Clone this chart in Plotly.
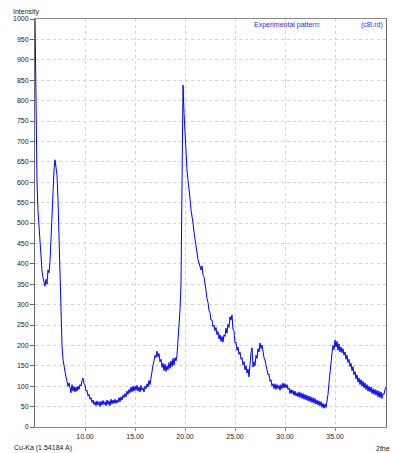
import plotly.graph_objects as go

two_theta_start = 5.0
two_theta_step = 0.1
intensity = [
    # 5.0 - 5.9
    1010, 690, 600, 530, 485, 440, 410, 382, 366, 352,
    # 6.0 - 6.9
    345, 362, 350, 385, 378, 405, 458, 512, 593, 630,
    # 7.0 - 7.9
    655, 640, 617, 556, 458, 385, 250, 200, 165, 147,
    # 8.0 - 8.9
    135, 122, 112, 100, 108, 92, 84, 104, 88, 99,
    # 9.0 - 9.9
    86, 98, 88, 100, 92, 104, 100, 114, 120, 106,
    # 10.0 - 10.9
    104, 88, 90, 76, 80, 68, 72, 60, 66, 55,
    # 11.0 - 11.9
    62, 52, 64, 54, 62, 50, 63, 54, 65, 55,
    # 12.0 - 12.9
    62, 52, 66, 55, 64, 52, 68, 56, 66, 58,
    # 13.0 - 13.9
    68, 58, 66, 60, 72, 62, 74, 66, 78, 72,
    # 14.0 - 14.9
    82, 74, 88, 80, 92, 84, 98, 86, 100, 88,
    # 15.0 - 15.9
    100, 90, 102, 88, 98, 86, 102, 90, 96, 86,
    # 16.0 - 16.9
    100, 94, 106, 98, 114, 104, 124, 132, 152, 162,
    # 17.0 - 17.9
    176, 170, 186, 172, 180, 160, 166, 146, 156, 138,
    # 18.0 - 18.9
    154, 136, 150, 140, 158, 144, 162, 148, 168, 152,
    # 19.0 - 19.9
    170, 162, 176, 213, 240, 287, 350, 650, 838, 770,
    # 20.0 - 20.9
    711, 665, 630, 605, 588, 560, 532, 520, 500, 478,
    # 21.0 - 21.9
    458, 440, 430, 410, 402, 390, 385, 395, 372, 368,
    # 22.0 - 22.9
    342, 335, 315, 305, 285, 280, 262, 262, 246, 250,
    # 23.0 - 23.9
    236, 244, 226, 234, 216, 226, 210, 222, 208, 226,
    # 24.0 - 24.9
    222, 242, 230, 252, 244, 270, 262, 275, 238, 236,
    # 25.0 - 25.9
    206, 208, 188, 196, 178, 184, 166, 170, 152, 160,
    # 26.0 - 26.9
    140, 150, 132, 142, 123, 158, 182, 194, 147, 160,
    # 27.0 - 27.9
    150, 176, 168, 192, 184, 206, 192, 201, 178, 170,
    # 28.0 - 28.9
    164, 146, 140, 128, 130, 112, 116, 100, 106, 94,
    # 29.0 - 29.9
    106, 92, 104, 94, 102, 90, 104, 94, 108, 96,
    # 30.0 - 30.9
    106, 96, 104, 92, 96, 82, 92, 82, 90, 78,
    # 31.0 - 31.9
    88, 76, 84, 74, 86, 72, 84, 70, 82, 68,
    # 32.0 - 32.9
    80, 66, 78, 64, 76, 62, 74, 60, 72, 58,
    # 33.0 - 33.9
    70, 56, 66, 54, 64, 52, 62, 48, 58, 46,
    # 34.0 - 34.9
    56, 48, 61, 80, 108, 140, 165, 181, 200, 190,
    # 35.0 - 35.9
    213, 196, 210, 188, 204, 184, 196, 182, 192, 176,
    # 36.0 - 36.9
    184, 166, 176, 158, 166, 148, 156, 138, 148, 128,
    # 37.0 - 37.9
    136, 118, 128, 110, 120, 104, 116, 100, 112, 96,
    # 38.0 - 38.9
    108, 92, 104, 88, 100, 86, 98, 82, 94, 80,
    # 39.0 - 39.9
    92, 78, 90, 74, 88, 72, 86, 70, 82, 80,
    # 40.0 - 40.1
    92, 98,
]
two_theta = [round(two_theta_start + i * two_theta_step, 2) for i in range(len(intensity))]

x_tick_vals = [10, 15, 20, 25, 30, 35]
x_tick_text = ["10.00", "15.00", "20.00", "25.00", "30.00", "35.00"]
y_tick_vals = list(range(0, 1001, 50))

FONT = "Liberation Sans"
PW, PH = 351, 408  # plot area size in px
TXT = "#222222"

fig = go.Figure()
fig.add_trace(go.Scatter(
    x=two_theta, y=intensity, mode="lines",
    line=dict(color="#0000ff", width=1),
    hoverinfo="skip", showlegend=False,
))

fig.update_layout(
    width=393, height=453,
    margin=dict(l=35, r=7, t=19, b=26, autoexpand=False),
    paper_bgcolor="white", plot_bgcolor="white",
    font=dict(family=FONT, size=7, color=TXT),
    xaxis=dict(
        range=[5, 40.1], tickvals=x_tick_vals, ticktext=x_tick_text,
        showgrid=True, gridcolor="#d4d4d4", griddash="dot", gridwidth=1,
        showline=True, linecolor="#8a8a8a", linewidth=1, mirror=True,
        ticks="outside", ticklen=3, tickcolor="#8a8a8a", automargin=False,
        zeroline=False, tickfont=dict(family=FONT, size=7, color=TXT),
    ),
    yaxis=dict(
        range=[0, 1000], tickvals=y_tick_vals,
        showgrid=True, gridcolor="#d4d4d4", griddash="dot", gridwidth=1,
        showline=True, linecolor="#6a6a6a", linewidth=1, mirror=True,
        ticks="outside", ticklen=4, tickcolor="#6a6a6a", automargin=False,
        zeroline=False, tickfont=dict(family=FONT, size=7, color=TXT),
    ),
    annotations=[
        dict(text="Intensity", xref="paper", yref="paper", x=(11 - 35) / PW, y=1 + 7/PH,
             xanchor="left", yanchor="middle", showarrow=False,
             font=dict(family=FONT, size=7, color=TXT)),
        dict(text="Experimental pattern:", xref="paper", yref="paper",
             x=(323 - 35) / PW, y=1 - 6/PH, xanchor="right", yanchor="middle",
             showarrow=False, font=dict(family=FONT, size=7, color="#2a2aff")),
        dict(text="(c8l.rd)", xref="paper", yref="paper",
             x=(385 - 35) / PW, y=1 - 6/PH, xanchor="right", yanchor="middle",
             showarrow=False, font=dict(family=FONT, size=7, color="#2a2aff")),
        dict(text="Cu-Ka (1.54184 A)", xref="paper", yref="paper",
             x=(12 - 35) / PW, y=-21/PH, xanchor="left", yanchor="middle",
             showarrow=False, font=dict(family=FONT, size=7, color=TXT)),
        dict(text="2the", xref="paper", yref="paper",
             x=(392 - 35) / PW, y=-21/PH, xanchor="right", yanchor="middle",
             showarrow=False, font=dict(family=FONT, size=7, color=TXT)),
    ],
)

fig.write_html(
    "out.html",
    config={"displayModeBar": False},
    post_script="document.body.style.margin='0';document.body.style.overflow='hidden';",
)
